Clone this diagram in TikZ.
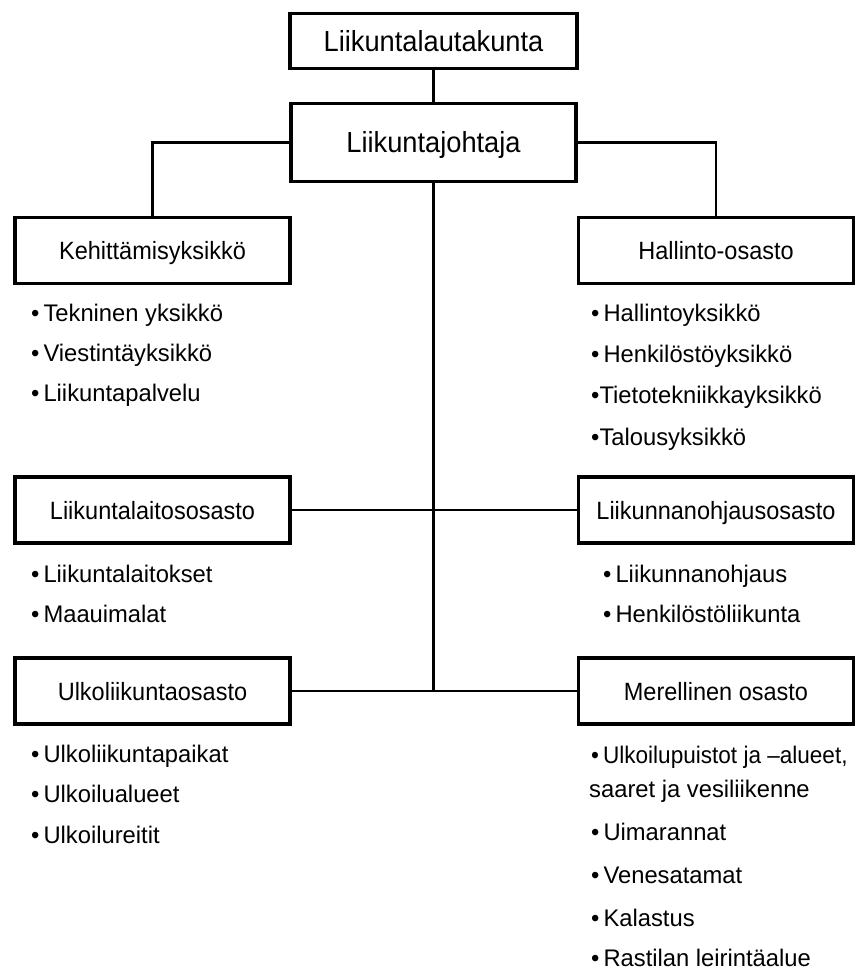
\documentclass[tikz,border=0pt]{standalone}
\usepackage{fontspec}
\setmainfont{Liberation Sans}[FakeStretch=0.94]
\newfontfamily\itemfont{Liberation Sans}[FakeStretch=0.99]
\begin{document}
\begin{tikzpicture}[x=1pt,y=-1pt,
  headbox/.style={draw,line width=3.5pt,inner sep=0pt,text height=21pt,text depth=0pt,font=\fontsize{29}{34}\selectfont},
  unitbox/.style={draw,line width=3.5pt,minimum width=275pt,minimum height=66pt,inner sep=0pt,text height=18pt,text depth=0pt,font=\fontsize{25}{30}\selectfont},
  item/.style={anchor=base west,inner sep=0pt,font=\itemfont\fontsize{24}{28}\selectfont},
  link/.style={line width=2.5pt}]
\useasboundingbox (0,0) rectangle (859,971);

\node[headbox,minimum width=287pt,minimum height=55pt] (lautakunta) at (433.5,41) {Liikuntalautakunta};
\node[headbox,minimum width=285pt,minimum height=78pt] (johtaja) at (433.5,142.5) {Liikuntajohtaja};

\node[unitbox] (kehitys) at (152.5,250.5) {Kehittämisyksikkö};
\node[unitbox] (hallinto) at (716,250.5) {Hallinto-osasto};
\node[unitbox] (laitos) at (152.5,510) {Liikuntalaitososasto};
\node[unitbox] (ohjaus) at (716,510) {Liikunnanohjausosasto};
\node[unitbox] (ulko) at (152.5,691) {Ulkoliikuntaosasto};
\node[unitbox] (meri) at (716,691) {Merellinen osasto};

\draw[link] (lautakunta.south) -- (johtaja.north);
\draw[link] (johtaja.west) -| (kehitys.north);
\draw[link] (johtaja.east) -| (hallinto.north);
\draw[link] (johtaja.south) -- (johtaja.south |- ulko.east);
\draw[link] (laitos.east) -- (ohjaus.west);
\draw[link] (ulko.east) -- (meri.west);

% lists below the units
\node[item] (k1) at (31,321) {•\,Tekninen yksikkö};
\node[item] (k2) at (31,361) {•\,Viestintäyksikkö};
\node[item] (k3) at (31,401) {•\,Liikuntapalvelu};

\node[item] (h1) at (591,321) {•\,Hallintoyksikkö};
\node[item] (h2) at (591,362) {•\,Henkilöstöyksikkö};
\node[item] (h3) at (591,403) {•Tietotekniikkayksikkö};
\node[item] (h4) at (591,445) {•Talousyksikkö};

\node[item] (l1) at (31,582) {•\,Liikuntalaitokset};
\node[item] (l2) at (31,622) {•\,Maauimalat};

\node[item] (o1) at (603,582) {•\,Liikunnanohjaus};
\node[item] (o2) at (603,622) {•\,Henkilöstöliikunta};

\node[item] (u1) at (31,762) {•\,Ulkoliikuntapaikat};
\node[item] (u2) at (31,802) {•\,Ulkoilualueet};
\node[item] (u3) at (31,843) {•\,Ulkoilureitit};

\node[item,font=\fontsize{24}{28}\selectfont] (m1) at (591,763) {•\,Ulkoilupuistot ja –alueet,};
\node[item] (m2) at (589,797) {saaret ja vesiliikenne};
\node[item] (m3) at (591,840) {•\,Uimarannat};
\node[item] (m4) at (591,883) {•\,Venesatamat};
\node[item] (m5) at (591,926) {•\,Kalastus};
\node[item] (m6) at (591,966) {•\,Rastilan leirintäalue};
\end{tikzpicture}
\end{document}
